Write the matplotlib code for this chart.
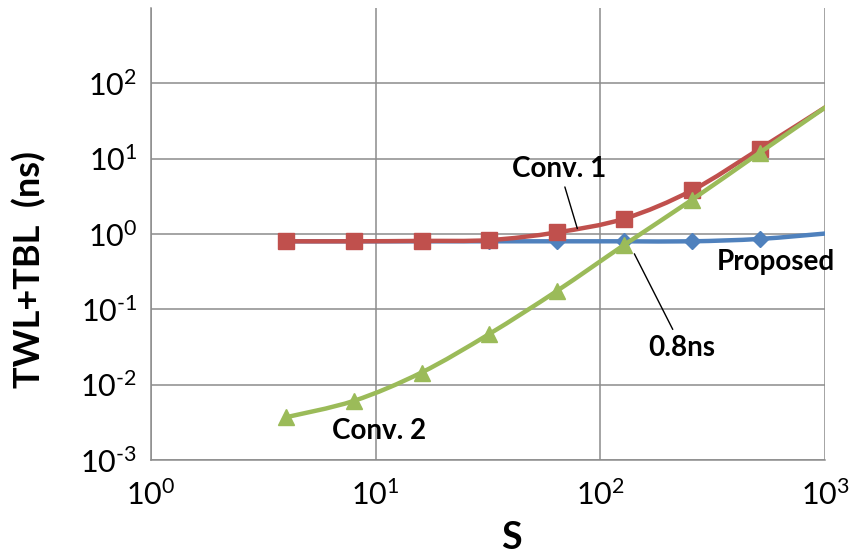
import numpy as np
import matplotlib
matplotlib.use("Agg")
import matplotlib.pyplot as plt
from matplotlib.path import Path
from matplotlib.patches import PathPatch

plt.rcParams['font.family'] = ['Lato', 'DejaVu Sans']
plt.rcParams['mathtext.fontset'] = 'custom'
plt.rcParams['mathtext.rm'] = 'Lato'
plt.rcParams['mathtext.bf'] = 'Lato:bold'
plt.rcParams['axes.unicode_minus'] = False

# Array size S (last sample lies just past the axis end)
s_values = [4, 8, 16, 32, 64, 128, 256, 512, 1024]

# TWL+TBL delay in ns
proposed = [0.80, 0.80, 0.80, 0.80, 0.80, 0.80, 0.80, 0.86, 1.02]
conv1 = [0.80, 0.80, 0.81, 0.83, 1.05, 1.60, 3.80, 13.5, 50.0]
conv2 = [0.0037, 0.0061, 0.0145, 0.047, 0.175, 0.72, 2.85, 12.0, 50.0]

x_ticks = [1, 10, 100, 1000]
x_tick_labels = ['$\\mathdefault{10^{0}}$', '$\\mathdefault{10^{1}}$',
                 '$\\mathdefault{10^{2}}$', '$\\mathdefault{10^{3}}$']
y_ticks = [1e-3, 1e-2, 1e-1, 1, 10, 100]
y_tick_labels = ['$\\mathdefault{10^{\\text{-}3}}$', '$\\mathdefault{10^{\\text{-}2}}$',
                 '$\\mathdefault{10^{\\text{-}1}}$', '$\\mathdefault{10^{0}}$',
                 '$\\mathdefault{10^{1}}$', '$\\mathdefault{10^{2}}$']

BLUE = '#4F81BD'
RED = '#C0504D'
GREEN = '#9BBB59'
GRID = '#8C8C8C'


def smooth_path(xs, ys):
    """Catmull-Rom style Bezier path through the points, built in log-log space."""
    P = np.column_stack([np.log10(xs), np.log10(ys)])
    n = len(P)
    verts = [P[0]]
    codes = [Path.MOVETO]
    for i in range(n - 1):
        p0 = P[i - 1] if i > 0 else P[i]
        p1 = P[i]
        p2 = P[i + 1]
        p3 = P[i + 2] if i + 2 < n else P[i + 1]
        c1 = p1 + (p2 - p0) / 6.0
        c2 = p2 - (p3 - p1) / 6.0
        verts += [c1, c2, p2]
        codes += [Path.CURVE4] * 3
    return Path(10 ** np.array(verts), codes)


fig = plt.figure(figsize=(8.56, 5.56), dpi=100)
ax = fig.add_axes([151 / 856, 1 - 460 / 556, (825 - 151) / 856, (460 - 8) / 556])
ax.set_xscale('log')
ax.set_yscale('log')
ax.set_xlim(1, 1000)
ax.set_ylim(1e-3, 1e3)

ax.set_xticks(x_ticks)
ax.set_xticklabels(x_tick_labels)
ax.set_yticks(y_ticks)
ax.set_yticklabels(y_tick_labels)
ax.minorticks_off()
ax.tick_params(axis='both', length=0, labelsize=22, colors='black')
ax.tick_params(axis='x', pad=14)
ax.tick_params(axis='y', pad=10)
ax.grid(True, color=GRID, linewidth=1.1)
ax.set_axisbelow(True)
for side in ('top', 'right'):
    ax.spines[side].set_visible(False)
for side in ('left', 'bottom'):
    ax.spines[side].set_color(GRID)
    ax.spines[side].set_linewidth(1.1)

series = [
    (proposed, BLUE, 'D', 8),
    (conv1, RED, 's', 11),
    (conv2, GREEN, '^', 11),
]
for z, (vals, color, marker, ms) in enumerate(series):
    patch = PathPatch(smooth_path(s_values, vals), fill=False, edgecolor=color,
                      linewidth=3.2, capstyle='round', joinstyle='round',
                      transform=ax.transData, zorder=3 + 2 * z)
    ax.add_patch(patch)
    ax.plot(s_values[:-1], vals[:-1], ls='none', marker=marker, ms=ms,
            color=color, markeredgecolor=color, zorder=4 + 2 * z)

bold = dict(fontsize=20, fontweight='bold', ha='center', va='center', color='black')
ax.annotate('Conv. 1', xy=(79, 1.18), xytext=(65.7, 7.4),
            arrowprops=dict(arrowstyle='-', color='black', lw=1.0,
                            shrinkA=2, shrinkB=0), zorder=10, **bold)
ax.annotate('0.8ns', xy=(141.7, 0.546), xytext=(231, 0.031),
            arrowprops=dict(arrowstyle='-', color='black', lw=1.0,
                            shrinkA=2, shrinkB=0), zorder=10, **bold)
ax.text(606, 0.43, 'Proposed', zorder=10, clip_on=False, **bold)
ax.text(10.4, 0.0024, 'Conv. 2', zorder=10, **bold)

fig.text(29 / 856, 1 - 270 / 556, 'TWL+TBL  (ns)', rotation=90, fontsize=26,
         fontweight='bold', ha='center', va='center')
fig.text(511 / 856, 1 - 538 / 556, 'S', fontsize=27, fontweight='bold',
         ha='center', va='center')

fig.savefig('out.png', dpi=100)
